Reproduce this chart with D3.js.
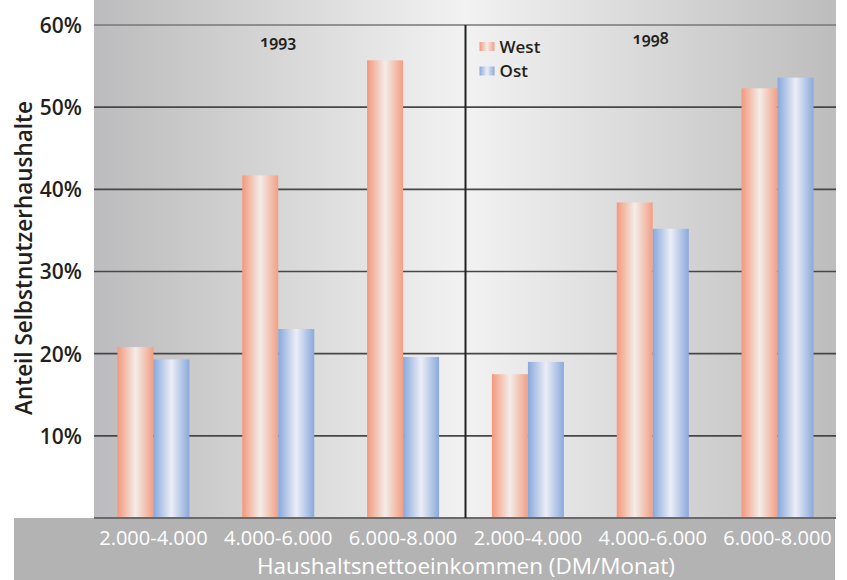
<!DOCTYPE html>
<html>
<head>
<meta charset="utf-8">
<script src="https://cdn.jsdelivr.net/npm/d3@7"></script>
<style>
  html, body { margin: 0; padding: 0; background: #ffffff; }
  svg { display: block; font-family: "Open Sans", "Noto Sans", sans-serif; }
</style>
</head>
<body>
<svg id="chart" width="847" height="580"></svg>
<script>
// Income brackets, repeated for each survey year
const categories = ["2.000-4.000", "4.000-6.000", "6.000-8.000"];
const years = ["1993", "1998"];
const seriesNames = ["West", "Ost"];
// Share of owner-occupier households (%), 1993 brackets then 1998 brackets
const westValues = [20.8, 41.7, 55.7, 17.5, 38.4, 52.3];
const ostValues  = [19.3, 23.0, 19.6, 19.0, 35.2, 53.6];
const yTicks = [10, 20, 30, 40, 50, 60];

const svg = d3.select("#chart");
const W = 847, H = 580;
const plot = { left: 94, right: 836, top: 25, bottom: 518 };

const keys = [];
years.forEach(y => categories.forEach(c => keys.push(y + "|" + c)));

const x = d3.scaleBand().domain(keys).range([91, 840]).padding(0);
const xSeries = d3.scaleBand().domain(seriesNames).range([-36, 36]).padding(0);
const y = d3.scaleLinear().domain([0, 60]).range([plot.bottom, plot.top]);

const defs = svg.append("defs");

// Plot background: dark at the outer edges, lightest at the year divider
const bg = defs.append("linearGradient").attr("id", "bgGrad")
  .attr("x1", "0").attr("x2", "1").attr("y1", "0").attr("y2", "0");
[[0, "#bcbcc0"], [0.06, "#c2c2c3"], [0.5, "#f2f2f2"], [0.75, "#d8d8d8"], [1, "#bdbdbd"]]
  .forEach(([o, c]) => bg.append("stop").attr("offset", o).attr("stop-color", c));

// Cylinder-like shading for the bars
const barColors = {
  West: ["#f4987b", "#f3ede9", "#f29f84"],
  Ost:  ["#87a8dc", "#eceef6", "#8aa9dc"]
};
seriesNames.forEach(s => {
  const g = defs.append("linearGradient").attr("id", "grad-" + s)
    .attr("x1", "0").attr("x2", "1").attr("y1", "0").attr("y2", "0");
  g.append("stop").attr("offset", 0).attr("stop-color", barColors[s][0]);
  g.append("stop").attr("offset", 0.5).attr("stop-color", barColors[s][1]);
  g.append("stop").attr("offset", 1).attr("stop-color", barColors[s][2]);
});

// Background of plot area
svg.append("rect")
  .attr("x", plot.left).attr("y", 0)
  .attr("width", plot.right - plot.left).attr("height", plot.bottom)
  .attr("fill", "url(#bgGrad)");

// Bottom band holding the category labels
svg.append("rect")
  .attr("x", 14).attr("y", plot.bottom)
  .attr("width", plot.right - 1 - 14).attr("height", H - plot.bottom)
  .attr("fill", "#b3b3b3");

// Horizontal grid
svg.append("g").selectAll("line").data(yTicks).join("line")
  .attr("x1", plot.left).attr("x2", plot.right)
  .attr("y1", d => y(d)).attr("y2", d => y(d))
  .attr("stroke", d => d === 60 ? "#777777" : "#474747")
  .attr("stroke-width", 1.6);

// Bars
const rows = keys.map((k, i) => ({ key: k, West: westValues[i], Ost: ostValues[i] }));
const groups = svg.append("g").selectAll("g").data(rows).join("g")
  .attr("transform", d => `translate(${x(d.key) + x.bandwidth() / 2},0)`);
groups.selectAll("rect")
  .data(d => seriesNames.map(s => ({ s, v: d[s] })))
  .join("rect")
  .attr("x", d => xSeries(d.s))
  .attr("width", xSeries.bandwidth())
  .attr("y", d => y(d.v))
  .attr("height", d => y(0) - y(d.v))
  .attr("fill", d => `url(#grad-${d.s})`);

// Baseline
svg.append("line")
  .attr("x1", plot.left).attr("x2", plot.right)
  .attr("y1", y(0)).attr("y2", y(0))
  .attr("stroke", "#6a6a6a").attr("stroke-width", 2);

// Divider between the two survey years
const divX = x(keys[categories.length]);
svg.append("line")
  .attr("x1", divX).attr("x2", divX)
  .attr("y1", y(60)).attr("y2", y(0))
  .attr("stroke", "#222222").attr("stroke-width", 2);

// Y axis labels
const yAxis = d3.axisLeft(y).tickValues(yTicks).tickFormat(d => d + "%").tickSize(0).tickPadding(0);
const yg = svg.append("g").attr("transform", "translate(82,0)").call(yAxis);
yg.select(".domain").remove();
yg.selectAll("text")
  .attr("font-family", "'Open Sans', sans-serif")
  .attr("font-size", 21).attr("font-weight", 600).attr("fill", "#231f20")
  .attr("dy", "0.35em");

// X axis labels
const xAxis = d3.axisBottom(x).tickFormat(k => k.split("|")[1]).tickSize(0).tickPadding(0);
const xg = svg.append("g").attr("transform", `translate(0,${plot.bottom})`).call(xAxis);
xg.select(".domain").remove();
xg.selectAll("text")
  .attr("font-family", "'Open Sans', sans-serif")
  .attr("font-size", 20).attr("fill", "#ffffff")
  .attr("y", 27).attr("dy", 0);

// Axis titles
svg.append("text")
  .attr("x", 466).attr("y", 574)
  .attr("text-anchor", "middle")
  .attr("font-size", 22.5).attr("fill", "#ffffff")
  .text("Haushaltsnettoeinkommen (DM/Monat)");

svg.append("text")
  .attr("transform", "translate(32,258) rotate(-90)")
  .attr("text-anchor", "middle")
  .attr("font-size", 22.5).attr("font-weight", 600).attr("fill", "#231f20")
  .text("Anteil Selbstnutzerhaushalte");

// Year labels above each panel
const yearPos = [
  { t: years[0], cx: x(keys[1]) + x.bandwidth() / 2, by: 47 },
  { t: years[1], cx: x(keys[4]) + x.bandwidth() / 2 - 2, by: 44 }
];
svg.append("g").selectAll("text").data(yearPos).join("text")
  .attr("x", d => d.cx).attr("y", d => d.by)
  .attr("text-anchor", "middle")
  .attr("font-family", "'Noto Sans', 'Open Sans', sans-serif")
  .style("font-variant-numeric", "oldstyle-nums")
  .attr("font-size", 16).attr("font-weight", 600).attr("fill", "#231f20")
  .text(d => d.t);

// Legend
const legend = svg.append("g").attr("transform", `translate(${divX + 14},42)`);
seriesNames.forEach((s, i) => {
  const g = legend.append("g").attr("transform", `translate(0,${i * 24.5})`);
  g.append("rect").attr("width", 15).attr("height", 9).attr("fill", `url(#grad-${s})`);
  g.append("text").attr("x", 20).attr("y", 10.5)
    .attr("font-size", 17).attr("font-weight", 600).attr("fill", "#231f20")
    .text(s);
});
</script>
</body>
</html>
